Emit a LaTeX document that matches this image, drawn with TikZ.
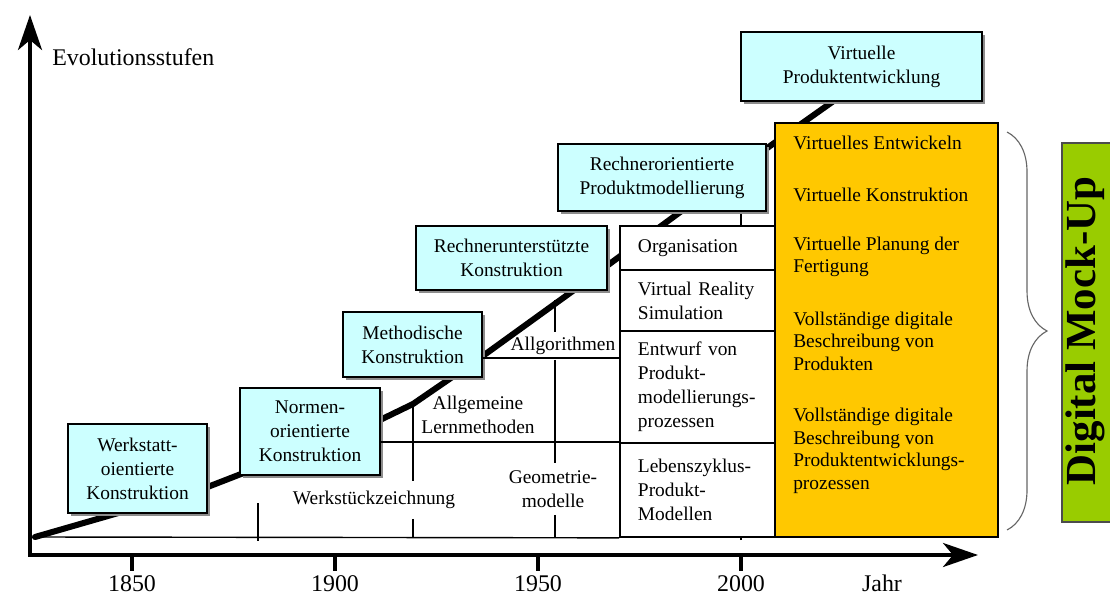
\documentclass[tikz,border=0pt]{standalone}
\usepackage{fontspec}
\setmainfont{Liberation Serif}
\usetikzlibrary{arrows.meta,shadows,decorations.pathreplacing}

\definecolor{stufenblau}{HTML}{CCFFFF}
\definecolor{dmuorange}{HTML}{FFC800}
\definecolor{dmugruen}{HTML}{99CC00}

\newcommand{\textklein}{\fontsize{13.8}{17}\selectfont}
\newcommand{\textgross}{\fontsize{17}{20}\selectfont}

\tikzset{
    stufe/.style = {draw, line width=1.4pt, fill=stufenblau, align=center, font=\textklein,
                    drop shadow={shadow xshift=2pt, shadow yshift=-2pt, fill=black!45, opacity=1}},
    zelle/.style = {draw, line width=1.2pt, fill=white, minimum width=3.875cm, text width=2.975cm,
                    align=left, inner xsep=0.45cm, font=\textklein},
    zwischentext/.style = {fill=white, align=center, font=\textklein, inner xsep=2pt, inner ysep=6pt},
    orangetext/.style = {anchor=west, align=left, inner sep=0pt, font=\fontsize{13.8}{16}\selectfont},
    linie/.style = {line width=1pt},
    achse/.style = {line width=2.8pt, <->},
}

\begin{document}
\begin{tikzpicture}[x=0.025cm, y=-0.025cm,
    >={Stealth[length=0.875cm, width=0.6cm, inset=0.25cm]}]
    \useasboundingbox (0,0) rectangle (1110,596);
    \clip (0,0) rectangle (1110,596);

    % Achsen
    \draw[achse] (30,15) -- (30,555) -- (978,555);
    \foreach \jahr/\px in {1850/132, 1900/335, 1950/538, 2000/741} {
        \draw[line width=2.8pt] (\px,555) -- (\px,571);
        \node[font=\textgross] (jahr\jahr) at (\px,584) {\jahr};
    }
    \node[font=\textgross] (jahr) at (882,583) {Jahr};
    \node[font=\textgross, anchor=west, inner sep=0pt] (evol) at (52,57) {Evolutionsstufen};

    \coordinate (j1881) at (258,537);
    \coordinate (j1920) at (413,537);
    \coordinate (j1955) at (555,537);
    \coordinate (j2000) at (741,537);

    \draw[linie] (258,503) -- (258,541);
    \draw[linie] (j2000) ++(0,3) -- (741,205);

    \draw[line width=4.3pt, line cap=round, line join=round]
        plot coordinates {(35,537) (205,488) (380,420) (413,404)
            (480,358) (570,293) (770,146) (835,100)};

    \node[zwischentext, inner ysep=7pt] (werkst) at (374,500) {Werkstückzeichnung};
    \node[zwischentext, inner ysep=5pt] (geom) at (553,489) {Geometrie-\\modelle};
    \node[align=center, font=\textklein] (allgem) at (478,415) {Allgemeine\\Lernmethoden};
    \node[font=\textklein] (algo) at (563,346) {Allgorithmen};

    \draw[linie] (413,404) -- (j1920 |- werkst.north);
    \draw[linie] (j1920 |- werkst.south) -- (j1920);
    \draw[linie] (555,300) -- (j1955 |- algo.north);
    \draw[linie] (j1955 |- algo.south) -- (j1955 |- geom.north);
    \draw[linie] (j1955 |- geom.south) -- (j1955);

    % Tabelle
    \node[zelle, minimum height=1.1cm] (org) at (697.5,248) {Organisation};
    \node[zelle, minimum height=1.525cm] (vr) at (697.5,300.5) {Virtual Reality\\Simulation};
    \node[zelle, minimum height=2.8cm] (entwurf) at (697.5,387) {Entwurf von\\Produkt-\\modellierungs-\\prozessen};
    \node[zelle, minimum height=2.35cm] (leben) at (697.5,490) {Lebenszyklus-\\Produkt-\\Modellen};

    % Evolutionsstufen
    \node[stufe, minimum width=3.475cm, minimum height=2.225cm] (werkstatt) at (137.5,468.5) {Werkstatt-\\oientierte\\Konstruktion};
    \node[stufe, minimum width=3.5cm, minimum height=2.175cm] (normen) at (310,431.5) {Normen-\\orientierte\\Konstruktion};
    \node[stufe, minimum width=3.475cm, minimum height=1.625cm] (methodisch) at (412.5,344.5) {Methodische\\Konstruktion};
    \node[stufe, minimum width=4.775cm, minimum height=1.6cm] (rechnerunt) at (511.5,258) {Rechnerunterstützte\\Konstruktion};
    \node[stufe, minimum width=5.2cm, minimum height=1.675cm] (rechnerori) at (662,177.5) {Rechnerorientierte\\Produktmodellierung};
    \node[stufe, minimum width=6.025cm, minimum height=1.725cm] (virtuell) at (861.5,66.5) {Virtuelle\\Produktentwicklung};

    \draw[linie] (35,537) -- (leben.south west);
    \draw[linie] (normen.east |- leben.north) -- (leben.north west);
    \draw[linie] (methodisch.east |- 0,358) -- (entwurf.west |- 0,358);

    % Digital Mock-Up
    \node[draw, line width=1.4pt, fill=dmuorange, minimum width=5.575cm, minimum height=10.35cm] (dmubox) at (886.5,330) {};
    \node[orangetext] (ot1) at (793,143) {Virtuelles Entwickeln};
    \node[orangetext] (ot2) at (793,195) {Virtuelle Konstruktion};
    \node[orangetext] (ot3) at (793,257) {Virtuelle Planung der\\Fertigung};
    \node[orangetext] (ot4) at (793,341) {Vollständige digitale\\Beschreibung von\\Produkten};
    \node[orangetext] (ot5) at (793,451) {Vollständige digitale\\Beschreibung von\\Produktentwicklungs-\\prozessen};

    \draw[black!60, line width=0.8pt, decorate, decoration={brace, amplitude=1cm}] (1007,132) -- (1007,530);

    \node[draw=black!70, line width=1pt, fill=dmugruen, minimum width=1.6cm, minimum height=9.475cm] (dmu) at (1094,332.5) {};
    \node[rotate=90, font=\bfseries\fontsize{30.5}{32}\selectfont, inner sep=0pt] (dmutext) at (1085,331) {Digital Mock-Up};
\end{tikzpicture}
\end{document}
